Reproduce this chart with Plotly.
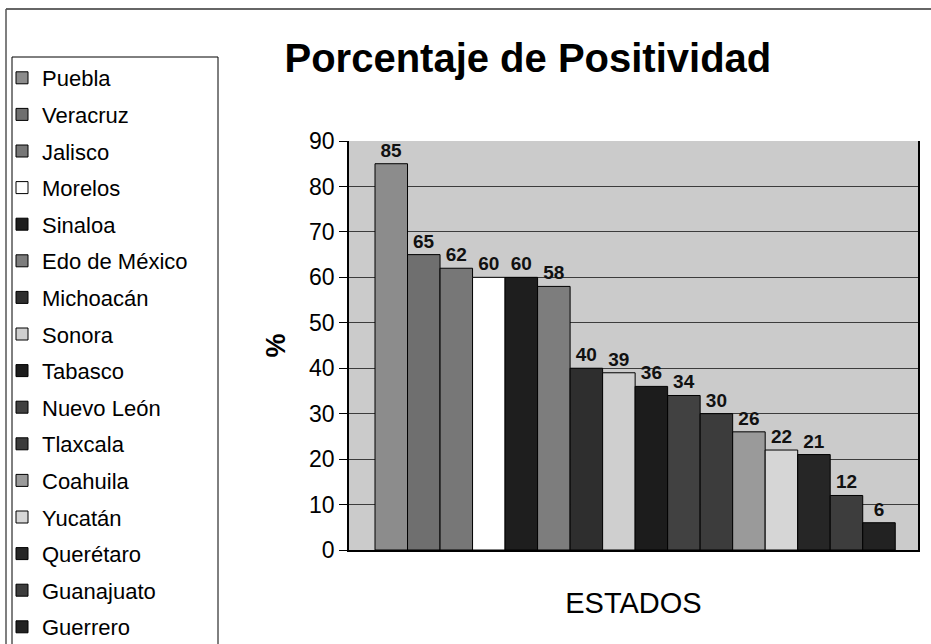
import plotly.graph_objects as go

estados = ["Puebla", "Veracruz", "Jalisco", "Morelos", "Sinaloa", "Edo de México",
           "Michoacán", "Sonora", "Tabasco", "Nuevo León", "Tlaxcala", "Coahuila",
           "Yucatán", "Querétaro", "Guanajuato", "Guerrero"]
positividad = [85, 65, 62, 60, 60, 58, 40, 39, 36, 34, 30, 26, 22, 21, 12, 6]
colores = ["#8c8c8c", "#6f6f6f", "#777777", "#ffffff", "#1e1e1e", "#7d7d7d",
           "#2e2e2e", "#cfcfcf", "#1c1c1c", "#414141", "#3c3c3c", "#9a9a9a",
           "#d6d6d6", "#262626", "#3d3d3d", "#222222"]
y_ticks = [0, 10, 20, 30, 40, 50, 60, 70, 80, 90]

FONT = "Arial, Liberation Sans, sans-serif"

fig = go.Figure()
for nombre, valor, color in zip(estados, positividad, colores):
    fig.add_trace(go.Bar(
        x=[nombre], y=[valor], name=nombre, legendgroup=nombre,
        width=1,
        marker=dict(color=color, line=dict(color="#000000", width=1)),
        text=[str(valor)], textposition="outside", cliponaxis=False,
        textfont=dict(family=FONT, size=19, color="#111111", weight="bold"),
    ))

fig.update_layout(
    width=931, height=644,
    margin=dict(l=349, r=13, t=141, b=94, autoexpand=False),
    barmode="overlay",
    paper_bgcolor="#ffffff",
    plot_bgcolor="#cbcbcb",
    font=dict(family=FONT, color="#000000"),
    title=dict(text="<b>Porcentaje de Positividad</b>", x=0.567, xanchor="center",
               y=1 - 58 / 644, yanchor="middle",
               font=dict(family=FONT, size=40, color="#000000")),
    showlegend=True,
    legend=dict(x=(2 - 349) / 569, y=(550 - 57) / 409, xanchor="left", yanchor="top",
                font=dict(family=FONT, size=22, color="#000000"),
                bgcolor="rgba(255,255,255,0)", borderwidth=0,
                traceorder="grouped", tracegroupgap=5, maxheight=700),
    xaxis=dict(categoryorder="array", categoryarray=estados,
               range=[-1.3, 16.2], showticklabels=False, ticks="",
               showline=True, linecolor="#000000", linewidth=1.5, mirror=False,
               showgrid=False, zeroline=False,
               title=dict(text="ESTADOS", standoff=42,
                          font=dict(family=FONT, size=29, color="#000000"))),
    yaxis=dict(range=[0, 90], tickvals=y_ticks, ticks="outside", ticklen=8,
               tickcolor="#000000", tickfont=dict(family=FONT, size=23, color="#000000"),
               showline=True, linecolor="#000000", linewidth=1.5, mirror=True,
               showgrid=True, gridcolor="#3c3c3c", gridwidth=1, zeroline=False,
               title=dict(text="<b>%</b>", standoff=16,
                          font=dict(family=FONT, size=27, color="#000000"))),
    shapes=[
        dict(type="rect", xref="paper", yref="paper",
             x0=(12 - 349) / 569, x1=(218 - 349) / 569,
             y0=(550 - 660) / 409, y1=(550 - 57) / 409,
             line=dict(color="#000000", width=1)),
        dict(type="line", xref="paper", yref="paper",
             x0=(6 - 349) / 569, x1=(935 - 349) / 569,
             y0=(550 - 9) / 409, y1=(550 - 9) / 409,
             line=dict(color="#333333", width=1.5)),
        dict(type="line", xref="paper", yref="paper",
             x0=(6 - 349) / 569, x1=(6 - 349) / 569,
             y0=(550 - 9) / 409, y1=(550 - 660) / 409,
             line=dict(color="#555555", width=1.5)),
    ],
)

fig.write_html("out.html")
